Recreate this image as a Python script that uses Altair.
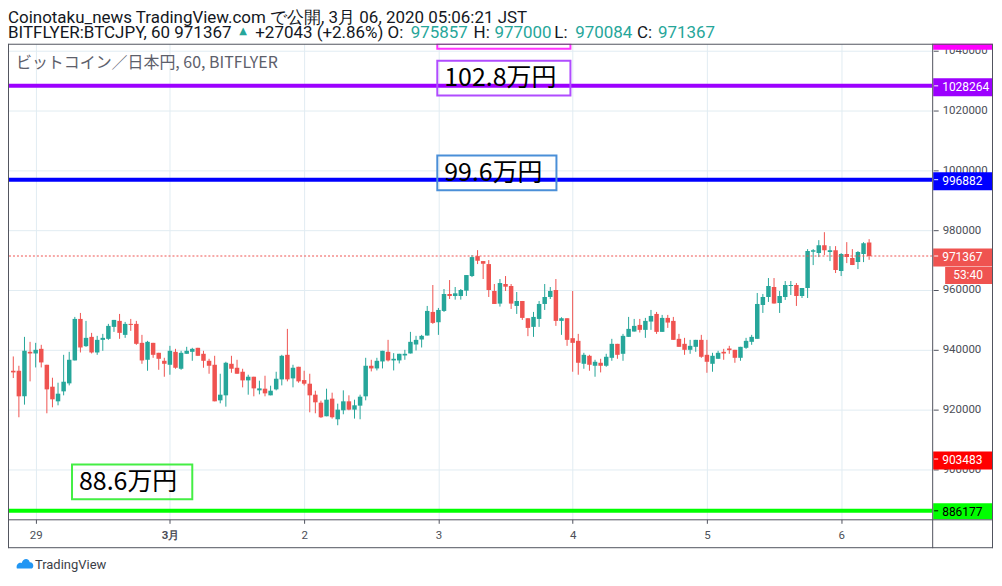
import json
import altair as alt
import pandas as pd

# ---------------- data: hourly BTC/JPY bars, index 0 = 2020-02-28 20:00 JST ----------------
open_ = [933000, 933000, 924450, 939330, 938780, 940330, 935000, 927670, 922780, 926110,
         928780, 936450, 950330, 941220, 944330, 939110, 943330, 943670, 947670, 949670,
         945000, 948670, 948670, 942330, 936670, 942330, 939000, 936330, 935000, 939330,
         933670, 938670, 939330, 940670, 938670, 936330, 935000, 923110, 924780, 935330,
         934000, 932670, 929780, 931000, 926450, 927000, 924780, 926780, 930110, 938330,
         930450, 934330, 929890, 928670, 925000, 922330, 917780, 923670, 916780, 919780,
         922780, 920000, 921330, 924450, 934670, 933780, 936110, 939330, 936450, 936450,
         938110, 938780, 941780, 943450, 944780, 952670, 949220, 953000, 958670, 958000,
         958000, 959780, 964670, 971330, 969670, 968670, 959670, 955450, 962000, 961330,
         954670, 956330, 950560, 947670, 950330, 955330, 957670, 960000, 949670, 950560,
         943890, 943000, 935330, 938000, 934670, 935670, 934670, 937330, 942000, 938670,
         944330, 946110, 948330, 946670, 949450, 952000, 946000, 950670, 949670, 943670,
         942000, 940000, 941000, 943330, 938330, 935330, 937000, 939330, 940450, 940000,
         937330, 940670, 942670, 943670, 955000, 957670, 961000, 955670, 957670, 961330,
         961670, 958000, 960670, 972780, 972330, 975000, 972670, 973330, 966330, 972000,
         970670, 969330, 972000, 975857]
high_ = [937780, 934670, 944330, 942670, 942330, 941670, 935000, 930670, 929000, 938330,
         939330, 951000, 952330, 949670, 945670, 944670, 945330, 948670, 950000, 952000,
         949330, 950330, 949670, 945000, 943000, 942330, 939000, 937330, 941330, 940330,
         939670, 941000, 940670, 940670, 939670, 937000, 938000, 932000, 936000, 938000,
         936670, 933670, 931670, 931000, 929670, 931330, 928000, 932670, 938330, 947000,
         935000, 934330, 933000, 932000, 926330, 923000, 927000, 925670, 922000, 926450,
         924780, 923330, 925000, 937330, 936670, 937330, 939670, 943330, 938890, 938670,
         940000, 946000, 944670, 945000, 954670, 961670, 954000, 960330, 963330, 961000,
         960330, 965000, 971670, 973330, 969670, 970000, 962000, 963670, 964670, 962000,
         959330, 956330, 950560, 952670, 956330, 962000, 961000, 963670, 950890, 950560,
         959670, 945330, 939000, 938330, 936670, 937000, 938670, 943670, 942000, 945330,
         951000, 950330, 950330, 950670, 953330, 952670, 951670, 951670, 951000, 945330,
         944000, 943330, 943330, 945000, 943330, 939000, 939670, 940330, 941330, 940000,
         941000, 944000, 945000, 959000, 958670, 964000, 964000, 959670, 963000, 963000,
         962330, 960670, 973670, 973670, 976670, 979330, 974670, 974670, 972330, 976000,
         973670, 973000, 976000, 977000]
low_ = [930560, 917450, 921670, 929450, 934110, 934110, 918780, 920780, 921450, 924780,
        928110, 936450, 939110, 941000, 938780, 938330, 939670, 943330, 946000, 943670,
        944000, 946330, 941670, 935330, 933000, 937330, 933330, 931000, 931670, 933670,
        933330, 938670, 936330, 938000, 934000, 932000, 922780, 922110, 921000, 932330,
        932000, 927450, 925000, 924450, 925110, 924450, 924780, 926450, 928110, 929450,
        927450, 929000, 928110, 919110, 918780, 917220, 917780, 917000, 914780, 918450,
        919780, 917000, 916780, 923110, 932780, 933110, 933780, 936110, 933110, 935450,
        936670, 938780, 939780, 940780, 944780, 948670, 945000, 952670, 957000, 956780,
        956780, 958000, 964330, 968670, 963670, 957670, 955330, 954450, 959670, 953670,
        952000, 950000, 944560, 944330, 947670, 953330, 957000, 948000, 945000, 941330,
        932670, 931670, 933670, 933000, 931000, 932450, 934330, 936330, 937000, 936330,
        944330, 946110, 945780, 944000, 946670, 945330, 946000, 947330, 943330, 941000,
        938330, 938670, 939330, 937330, 932330, 932670, 937000, 936670, 938670, 935670,
        936330, 940330, 941670, 943670, 952330, 956000, 955450, 952330, 956670, 958330,
        954670, 957330, 957330, 968330, 971000, 971670, 969670, 965670, 964670, 969000,
        968330, 967000, 969330, 970084]
close_ = [932450, 924450, 939670, 938780, 940000, 935780, 926780, 923450, 925330, 929330,
          936670, 950330, 940780, 944000, 939110, 943330, 944000, 948000, 950000, 945670,
          948670, 948330, 942000, 936450, 942670, 938330, 937000, 935330, 939670, 934000,
          939000, 939670, 940330, 938000, 936330, 934670, 922780, 925000, 935670, 933670,
          932000, 929780, 931000, 927110, 927110, 925450, 926330, 930330, 938000, 930110,
          934000, 929450, 928670, 924780, 922450, 917450, 923330, 917450, 920000, 922780,
          920000, 921450, 924330, 934670, 933780, 936330, 939670, 936450, 937000, 938670,
          938670, 942670, 943330, 944670, 953000, 949000, 953330, 958670, 958000, 958890,
          960000, 965000, 971000, 969780, 968780, 960000, 955330, 962330, 961110, 955450,
          956330, 950670, 947330, 951000, 955330, 957670, 959670, 949670, 950560, 943330,
          942330, 935670, 938330, 935000, 936000, 934670, 937670, 942000, 938330, 944670,
          947000, 948000, 946670, 949670, 951330, 946000, 950670, 949110, 943330, 941000,
          940000, 941330, 943330, 937670, 936000, 938000, 939000, 938780, 939890, 937330,
          941000, 943000, 944330, 955330, 957670, 961330, 955450, 958000, 961670, 961670,
          958000, 960670, 973000, 973330, 975000, 973330, 973330, 966670, 972000, 971000,
          968330, 972670, 975670, 971367]

day_ticks = [4, 28, 52, 76, 100, 124, 148]
day_labels = ["29", "3月", "2", "3", "4", "5", "6"]
price_ticks = [900000, 920000, 940000, 960000, 980000, 1000000, 1020000, 1040000]

level_prices = [1028264, 996882, 886177]
level_colors = ["#9c00ff", "#0000ff", "#00ff00"]

tag_prices = [1043800, 1028264, 996882, 971367, 903483, 886177]
tag_texts = ["", "1028264", "996882", "971367", "903483", "886177"]
tag_fill = ["#ff00ff", "#9c00ff", "#0000ff", "#ef5350", "#ff0000", "#00ff00"]
tag_ink = ["#ffffff", "#ffffff", "#ffffff", "#ffffff", "#ffffff", "#000000"]

note_texts = ["", "102.8万円", "99.6万円", "88.6万円"]
note_x0 = [75.8, 75.8, 75.8, 10.5]
note_x1 = [99.6, 99.6, 97.1, 32.0]
note_top = [1052000, 1036670, 1005000, 901670]
note_bottom = [1040670, 1025000, 993330, 890000]
note_stroke = ["#ff33ff", "#b04cff", "#4a8fd8", "#44ee44"]

header_line1 = "Coinotaku_news TradingView.com で公開, 3月 06, 2020 05:06:21 JST"
header_parts = ["BITFLYER:BTCJPY, 60 971367", "▲", "+27043 (+2.86%) O:", "975857", "H:",
                "977000", "L:", "970084", "C:", "971367"]
header_green = [False, True, False, True, False, True, False, True, False, True]
header_x = [0, 232, 248, 404, 467, 488, 548, 569, 631, 652]
subtitle = "ビットコイン／日本円, 60, BITFLYER"
countdown = "53:40"

# ---------------- layout ----------------
W, H = 927, 477
X_DOM = [-0.053, 163.38]
Y_DOM = [883333, 1042333]
PX = (Y_DOM[1] - Y_DOM[0]) / H  # price per pixel
UP, DOWN = "#26a69a", "#ef5350"
FRAME = "#50535e"
GRID = "#e1ecf2"
LBL = "#4c4f58"

xs = alt.Scale(domain=X_DOM, nice=False, zero=False)
ys = alt.Scale(domain=Y_DOM, nice=False, zero=False, clamp=True)

df = pd.DataFrame({"i": list(range(len(open_))), "o": open_, "h": high_, "l": low_, "c": close_})
df["col"] = [UP if c >= o else DOWN for o, c in zip(open_, close_)]

label_expr = "%s[indexof(%s, datum.value)]" % (json.dumps(day_labels, ensure_ascii=False), json.dumps(day_ticks))
bold_tick = day_ticks[day_labels.index("3月")]

xaxis = alt.Axis(values=day_ticks, labelExpr=label_expr, grid=True, gridColor=GRID, domain=False,
                 tickSize=4, tickColor=FRAME, labelColor=LBL, labelFont="Roboto", labelFontSize=11.5,
                 labelPadding=6, labelFlush=False, title=None,
                 labelFontWeight={"condition": {"test": "datum.value === %d" % bold_tick, "value": "bold"},
                                  "value": "normal"})
yaxis = alt.Axis(orient="right", values=price_ticks, format="d", grid=True, gridColor=GRID, domain=False,
                 tickSize=5, tickColor=FRAME, offset=1, labelPadding=4, labelColor=LBL,
                 labelFont="Roboto", labelFontSize=11.5, title=None)


def X(field):
    return alt.X(field, scale=xs, axis=xaxis)


def Y(field):
    return alt.Y(field, scale=ys, axis=yaxis)


wicks = alt.Chart(df).mark_rule(strokeWidth=1, clip=True).encode(
    x=X("i:Q"), y=Y("l:Q"), y2="h:Q", color=alt.Color("col:N", scale=None))
bodies = alt.Chart(df).mark_bar(width=4.5, clip=True).encode(
    x=X("i:Q"), y=Y("o:Q"), y2="c:Q", color=alt.Color("col:N", scale=None))

lv = pd.DataFrame({"p": level_prices, "col": level_colors})
levels = alt.Chart(lv).mark_rule(strokeWidth=4).encode(
    y=Y("p:Q"), color=alt.Color("col:N", scale=None))

cur = alt.Chart(pd.DataFrame({"p": [close_[-1]]})).mark_rule(
    strokeWidth=1, strokeDash=[2, 2], color=DOWN).encode(y=Y("p:Q"))

nt = pd.DataFrame({"t": note_texts, "x0": note_x0, "x1": note_x1, "top": note_top,
                   "bot": note_bottom, "s": note_stroke})
note_boxes = alt.Chart(nt).mark_rect(fillOpacity=0, strokeWidth=2, clip=True).encode(
    x=X("x0:Q"), x2="x1:Q", y=Y("top:Q"), y2="bot:Q", stroke=alt.Stroke("s:N", scale=None))
note_txt = alt.Chart(nt).transform_filter("datum.t != ''").transform_calculate(
    mid="(datum.top + datum.bot) / 2").mark_text(
    align="left", baseline="middle", font="Noto Sans CJK JP", fontSize=25, dx=7, color="#000000").encode(
    x=X("x0:Q"), y=Y("mid:Q"), text="t:N")

tg = pd.DataFrame({"p": tag_prices, "t": tag_texts, "f": tag_fill, "k": tag_ink})
tag_box = alt.Chart(tg).transform_calculate(
    a="datum.p + %f" % (7.5 * PX), b="datum.p - %f" % (10.5 * PX)).mark_rect().encode(
    x=alt.value(928), x2=alt.value(987), y=Y("a:Q"), y2="b:Q", color=alt.Color("f:N", scale=None))
tag_dash = alt.Chart(tg).transform_filter("datum.t != ''").mark_rule(strokeWidth=1).encode(
    x=alt.value(929), x2=alt.value(933), y=Y("p:Q"), color=alt.Color("k:N", scale=None))
tag_txt = alt.Chart(tg).transform_filter("datum.t != ''").mark_text(
    align="left", baseline="middle", font="Roboto", fontSize=12, dy=1).encode(
    x=alt.value(937), y=Y("p:Q"), text="t:N", color=alt.Color("k:N", scale=None))

cd = pd.DataFrame({"p": [close_[-1]], "t": [countdown]})
cd_box = alt.Chart(cd).transform_calculate(
    a="datum.p - %f" % (11 * PX), b="datum.p - %f" % (28 * PX)).mark_rect(color=DOWN).encode(
    x=alt.value(940), x2=alt.value(987), y=Y("a:Q"), y2="b:Q")
cd_txt = alt.Chart(cd).transform_calculate(m="datum.p - %f" % (19.5 * PX)).mark_text(
    align="center", baseline="middle", font="Roboto", fontSize=12, color="#ffffff").encode(
    x=alt.value(963), y=Y("m:Q"), text="t:N")


def txt(s, x, y, size, color, font="Roboto", weight="normal"):
    return alt.Chart(pd.DataFrame({"t": [s]})).mark_text(
        align="left", baseline="middle", font=font, fontSize=size, color=color, fontWeight=weight
    ).encode(x=alt.value(x), y=alt.value(y), text="t:N")


head = [txt(header_line1, 0, -26, 17, "#131722")]
for s, g, x in zip(header_parts, header_green, header_x):
    if s == "▲":
        head.append(txt(s, x, -13, 10, UP, font="DejaVu Sans"))
    else:
        head.append(txt(s, x, -11, 17, UP if g else "#131722"))
sub = txt(subtitle, 8, 19, 16, "#5d606b", font="Noto Sans CJK JP")

cloud = "M-1,0.55 C-1.15,0.05 -0.75,-0.3 -0.4,-0.15 C-0.25,-0.75 0.45,-0.8 0.6,-0.25 C1.05,-0.3 1.2,0.35 0.85,0.55 Z"
logo = alt.Chart(pd.DataFrame({"t": ["TradingView"]})).mark_point(
    shape=cloud, filled=True, size=260, color="#2196f3", opacity=1).encode(
    x=alt.value(17), y=alt.value(522))
logo_txt = txt("TradingView", 27, 522.5, 13, "#3b3e47")


def seg(x1, x2, y1, y2):
    return alt.Chart(pd.DataFrame({"t": [0]})).mark_rule(color=FRAME, strokeWidth=1).encode(
        x=alt.value(x1), x2=alt.value(x2), y=alt.value(y1), y2=alt.value(y2))


frame = [
    seg(0.5, 987.5, 0.5, 0.5),
    seg(0.5, 987.5, 477.5, 477.5),
    seg(0.5, 987.5, 505.5, 505.5),
    seg(0.5, 0.5, 0, 506),
    seg(927.5, 927.5, 0, 506),
    seg(987.5, 987.5, 0, 506),
]

chart = alt.layer(
    wicks, bodies, levels, cur, note_boxes, note_txt, tag_box, tag_dash, tag_txt, cd_box, cd_txt,
    *head, sub, logo, logo_txt, *frame
).properties(
    width=W, height=H, autosize="none",
    padding={"left": 0, "top": 35, "right": 62, "bottom": 53},
    background="#ffffff",
).configure_view(stroke=None)

chart.save("out.html", embed_options={"renderer": "svg", "actions": False})
